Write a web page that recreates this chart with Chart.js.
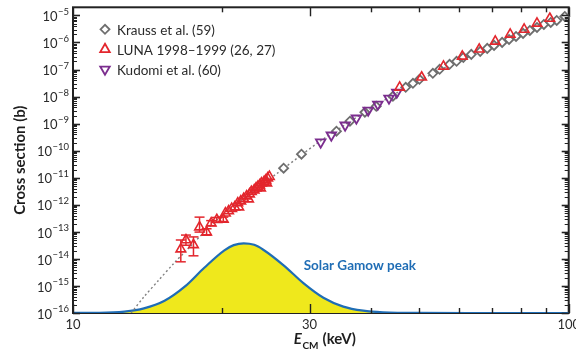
<!DOCTYPE html>
<html lang="en">
<head>
<meta charset="UTF-8">
<title>3He(3He,2p)4He cross section</title>
<script src="https://cdn.jsdelivr.net/npm/chart.js"></script>
<style>
  html, body { margin: 0; padding: 0; background: #fff; overflow: hidden; }
  #wrap { position: relative; width: 576px; height: 360px; }
</style>
</head>
<body>
<div id="wrap"><canvas id="chart"></canvas></div>
<script>
  // values (E in keV, cross section in barn)
  const kraussE = [26.6, 28.9, 34.0, 36.2, 38.8, 40.9, 44.2, 46.9, 48.5, 50.0, 53.2, 54.9, 57.5, 59.4, 61.3, 63.6, 66.3, 68.5, 70.7, 73.4, 75.8, 78.3, 80.9, 83.5, 86.3, 89.1, 92.0, 94.6, 98.2];
  const kraussSigma = [2.26e-11, 7.43e-11, 5.25e-10, 1.23e-9, 2.64e-9, 4.39e-9, 1.03e-8, 2.20e-8, 3.10e-8, 4.35e-8, 7.24e-8, 1.02e-7, 1.56e-7, 2.01e-7, 2.82e-7, 3.64e-7, 4.70e-7, 6.05e-7, 7.82e-7, 1.01e-6, 1.30e-6, 1.68e-6, 2.17e-6, 2.79e-6, 3.61e-6, 4.65e-6, 5.52e-6, 6.53e-6, 9.2e-6];

  const lunaE = [16.5, 16.9, 17.5, 18.0, 18.6, 19.0, 19.5, 20.1, 20.3, 20.6, 20.9, 21.2, 21.5, 21.6, 21.8, 22.1, 22.4, 22.6, 22.7, 22.9, 23.2, 23.4, 23.6, 23.8, 23.9, 24.0, 24.3, 24.5, 24.6, 24.7, 24.9, 45.6, 50.5, 55.9, 61.0, 66.0, 71.1, 76.2, 81.3, 86.3, 91.6];
  const lunaSigma = [2.3e-14, 5.0e-14, 3.3e-14, 1.5e-13, 9.8e-14, 2.1e-13, 2.8e-13, 2.9e-13, 4.9e-13, 5.9e-13, 7.2e-13, 8.2e-13, 1.16e-12, 8.2e-13, 1.37e-12, 1.69e-12, 2.09e-12, 1.62e-12, 2.48e-12, 3.07e-12, 3.48e-12, 4.13e-12, 4.70e-12, 5.34e-12, 4.13e-12, 6.32e-12, 7.18e-12, 8.15e-12, 6.3e-12, 9.66e-12, 1.10e-11, 2.2e-8, 5.2e-8, 1.31e-7, 3.07e-7, 5.6e-7, 1.10e-6, 1.99e-6, 3.04e-6, 5.07e-6, 7.7e-6];
  // error bars of the lowest LUNA points
  const lunaErrE = [16.5, 16.9, 17.5, 18.0, 18.6, 19.0, 19.5, 20.1];
  const lunaErrLow = [7.8e-15, 3.2e-14, 1.3e-14, 9.8e-14, 7.5e-14, 1.7e-13, 2.3e-13, 2.4e-13];
  const lunaErrHigh = [5.0e-14, 7.6e-14, 6.5e-14, 3.5e-13, 1.3e-13, 2.6e-13, 3.4e-13, 3.5e-13];

  const kudomiE = [31.6, 33.2, 35.4, 37.3, 39.4, 41.2, 43.4, 45.0];
  const kudomiSigma = [2.06e-10, 3.73e-10, 8.73e-10, 1.58e-9, 3.12e-9, 5.20e-9, 8.65e-9, 1.44e-8];

  // dotted curve
  const theoryE = [13.1, 13.9, 14.9, 16.0, 17.2, 18.4, 19.7, 21.6, 23.7, 26.0, 28.5, 31.3, 34.3, 37.6, 41.2, 45.2, 49.6, 54.4, 59.6, 65.4, 71.7, 78.7, 86.3, 94.6, 100];
  const theorySigma = [1.0e-16, 3.93e-16, 1.66e-15, 7.06e-15, 2.75e-14, 9.84e-14, 3.23e-13, 1.26e-12, 4.50e-12, 1.61e-11, 5.75e-11, 2.06e-10, 6.21e-10, 1.87e-9, 5.20e-9, 1.44e-8, 3.67e-8, 8.59e-8, 2.01e-7, 4.32e-7, 8.51e-7, 1.68e-6, 3.31e-6, 6.01e-6, 9.2e-6];

  // Gamow peak, relative height (linear, arbitrary units)
  const gamowE = [10.0, 11.3, 12.7, 13.9, 15.3, 16.8, 18.4, 20.2, 21.1, 22.1, 23.2, 24.2, 26.6, 29.2, 32.0, 35.1, 38.5, 42.2, 49.6, 100];
  const gamowRel = [0.0005, 0.0008, 0.0047, 0.015, 0.040, 0.086, 0.148, 0.205, 0.222, 0.228, 0.223, 0.207, 0.156, 0.097, 0.050, 0.021, 0.0075, 0.0022, 0.0002, 0];

  const xTickLabels = [10, 30, 100];
  const xMinorTicks = [20, 40, 50, 60, 70, 80, 90];
  const yDecades = [-16, -15, -14, -13, -12, -11, -10, -9, -8, -7, -6, -5];

  const legendItems = [
    { text: 'Krauss et al. (59)', style: 'rectRot', color: '#6e6e6e', rot: 0, r: 4.5 },
    { text: 'LUNA 1998\u20131999 (26, 27)', style: 'triangle', color: '#e3262d', rot: 0, r: 5.5 },
    { text: 'Kudomi et al. (60)', style: 'triangle', color: '#7b2d8e', rot: 180, r: 5.5 }
  ];
  const gamowLabel = { text: 'Solar Gamow peak', e: 29.2, sigma: 5.5e-15 };

  const FONT = 'Lato, "Open Sans", sans-serif';
  const pts = (xs, ys) => xs.map((v, i) => ({ x: v, y: ys[i] }));

  const frame = {
    id: 'frame',
    beforeDatasetsDraw(chart) {
      const { ctx, chartArea: a } = chart;
      ctx.save();
      ctx.strokeStyle = '#222';
      ctx.lineWidth = 2;
      ctx.strokeRect(a.left, a.top, a.right - a.left, a.bottom - a.top);
      ctx.restore();
    },
    afterDatasetsDraw(chart) {
      const { ctx, chartArea: a, scales: { x, y } } = chart;
      ctx.save();
      const seg = (x1, y1, x2, y2) => { ctx.beginPath(); ctx.moveTo(x1, y1); ctx.lineTo(x2, y2); ctx.stroke(); };

      // LUNA error bars
      ctx.strokeStyle = '#e3262d';
      ctx.lineWidth = 1.5;
      lunaErrE.forEach((e, i) => {
        const px = x.getPixelForValue(e);
        const lo = y.getPixelForValue(lunaErrLow[i]);
        const hi = y.getPixelForValue(lunaErrHigh[i]);
        seg(px, lo, px, hi);
        seg(px - 5, lo, px + 5, lo);
        seg(px - 5, hi, px + 5, hi);
      });

      // y ticks, left and right, pointing in
      ctx.strokeStyle = '#222';
      yDecades.forEach(k => {
        for (let m = 1; m <= 9; m++) {
          const v = m * Math.pow(10, k);
          if (v > y.max) continue;
          const py = Math.round(y.getPixelForValue(v)) + 0.5;
          const len = m === 1 ? 7 : 4;
          ctx.lineWidth = m === 1 ? 1.6 : 1;
          seg(a.left, py, a.left + len, py);
          seg(a.right, py, a.right - len, py);
        }
      });
      // x ticks, bottom and top
      ctx.lineWidth = 1.4;
      xTickLabels.concat(xMinorTicks).forEach(v => {
        const px = Math.round(x.getPixelForValue(v)) + 0.5;
        const len = xTickLabels.includes(v) ? 9 : 5;
        seg(px, a.bottom, px, a.bottom - len);
        seg(px, a.top, px, a.top + len);
      });
      ctx.restore();
    },
    afterDraw(chart) {
      const { ctx, chartArea: a, scales: { x, y } } = chart;
      ctx.save();
      ctx.fillStyle = '#2a2a2a';
      ctx.textBaseline = 'middle';
      // y tick labels 10^k
      yDecades.forEach(k => {
        const py = y.getPixelForValue(Math.pow(10, k));
        const exp = '\u2212' + Math.abs(k);
        ctx.font = '13px ' + FONT;
        const bw = ctx.measureText('10').width;
        ctx.font = '9.5px ' + FONT;
        const ew = ctx.measureText(exp).width;
        const right = a.left - 4;
        ctx.textAlign = 'left';
        ctx.font = '13px ' + FONT;
        ctx.fillText('10', right - ew - bw - 0.5, py + 1.5);
        ctx.font = '9.5px ' + FONT;
        ctx.fillText(exp, right - ew, py - 4);
      });
      // x tick labels
      ctx.font = '13px ' + FONT;
      ctx.textAlign = 'center';
      xTickLabels.forEach(v => ctx.fillText(String(v), x.getPixelForValue(v), a.bottom + 12));

      // x title: E_CM (keV)
      ctx.fillStyle = '#1e1e1e';
      ctx.textAlign = 'left';
      ctx.textBaseline = 'alphabetic';
      const fE = 'italic bold 15px ' + FONT, fS = 'bold 10px ' + FONT, fT = 'bold 15px ' + FONT;
      ctx.font = fE; const w1 = ctx.measureText('E').width;
      ctx.font = fS; const w2 = ctx.measureText('CM').width;
      ctx.font = fT; const w3 = ctx.measureText(' (keV)').width;
      let tx = (a.left + a.right) / 2 + 4 - (w1 + w2 + w3 + 1) / 2;
      const base = 344;
      ctx.font = fE; ctx.fillText('E', tx, base); tx += w1 + 0.5;
      ctx.font = fS; ctx.fillText('CM', tx, base + 5); tx += w2 + 0.5;
      ctx.font = fT; ctx.fillText(' (keV)', tx, base);

      // Gamow label
      ctx.fillStyle = '#1f6db5';
      ctx.font = 'bold 13.5px ' + FONT;
      ctx.textBaseline = 'middle';
      ctx.fillText(gamowLabel.text, x.getPixelForValue(gamowLabel.e), y.getPixelForValue(gamowLabel.sigma));

      // legend inside the plot, top left
      legendItems.forEach((it, i) => {
        const ly = a.top + 22 + i * 20;
        ctx.fillStyle = '#fff';
        ctx.strokeStyle = it.color;
        ctx.lineWidth = 1.8;
        Chart.helpers.drawPoint(ctx, { pointStyle: it.style, radius: it.r, rotation: it.rot, borderWidth: 1.8 }, a.left + 32, ly);
        ctx.fillStyle = '#2a2a2a';
        ctx.font = '13.5px ' + FONT;
        ctx.fillText(it.text, a.left + 44, ly + 1);
      });
      ctx.restore();
    }
  };

  new Chart(document.getElementById('chart'), {
    type: 'scatter',
    data: {
      datasets: [
        {
          label: 'Solar Gamow peak',
          data: pts(gamowE, gamowRel),
          yAxisID: 'y2',
          showLine: true,
          fill: 'origin',
          backgroundColor: '#efe81c',
          borderColor: '#1f6db5',
          borderWidth: 2.2,
          pointRadius: 0,
          cubicInterpolationMode: 'monotone',
          order: 10
        },
        {
          label: 'fit',
          data: pts(theoryE, theorySigma),
          showLine: true,
          borderColor: '#808080',
          borderWidth: 1.4,
          borderDash: [2, 2.5],
          pointRadius: 0,
          tension: 0.3,
          order: 8
        },
        {
          label: 'Krauss et al. (59)',
          data: pts(kraussE, kraussSigma),
          pointStyle: 'rectRot',
          pointRadius: 4.5,
          borderColor: '#6e6e6e',
          backgroundColor: '#fff',
          pointBorderWidth: 1.8,
          clip: 8,
          order: 5
        },
        {
          label: 'Kudomi et al. (60)',
          data: pts(kudomiE, kudomiSigma),
          pointStyle: 'triangle',
          pointRotation: 180,
          pointRadius: 5.5,
          borderColor: '#7b2d8e',
          backgroundColor: 'rgba(255,255,255,0)',
          pointBorderWidth: 1.8,
          clip: 8,
          order: 2
        },
        {
          label: 'LUNA 1998\u20131999 (26, 27)',
          data: pts(lunaE, lunaSigma),
          pointStyle: 'triangle',
          pointRadius: 5.5,
          borderColor: '#e3262d',
          backgroundColor: 'rgba(255,255,255,0)',
          pointBorderWidth: 1.6,
          clip: 8,
          order: 1
        }
      ]
    },
    options: {
      responsive: true,
      maintainAspectRatio: false,
      animation: false,
      devicePixelRatio: 1,
      layout: { padding: { top: 6, right: 4, bottom: 0, left: 0 } },
      plugins: { legend: { display: false }, tooltip: { enabled: false } },
      scales: {
        x: {
          type: 'logarithmic',
          min: 10, max: 100,
          grid: { display: false },
          border: { display: false },
          ticks: { display: false },
          afterFit(s) { s.height = 47; s.paddingLeft = 0; s.paddingRight = 0; }
        },
        y: {
          type: 'logarithmic',
          min: 1e-16, max: 2e-5,
          grid: { display: false },
          border: { display: false },
          ticks: { display: false },
          title: {
            display: true,
            text: 'Cross section (b)',
            color: '#1e1e1e',
            font: { family: FONT, size: 15, weight: 'bold' },
            padding: { top: 11, bottom: 0 }
          },
          afterFit(s) { s.width = 73; s.paddingTop = 0; s.paddingBottom = 0; }
        },
        y2: { type: 'linear', display: false, min: 0, max: 1 }
      }
    },
    plugins: [frame]
  });
</script>
</body>
</html>
